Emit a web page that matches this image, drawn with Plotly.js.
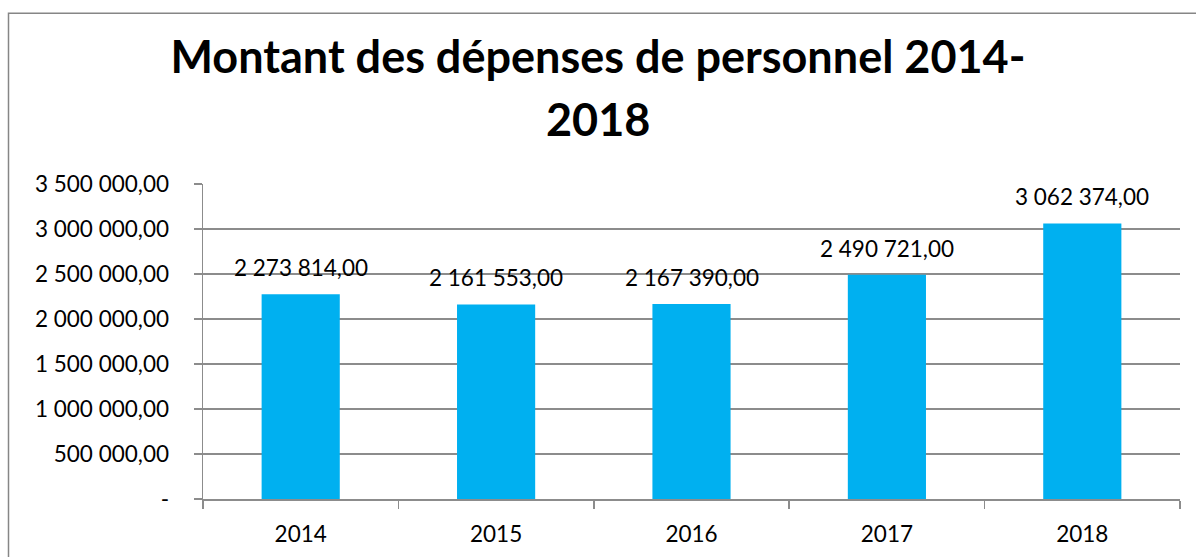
<!DOCTYPE html>
<html>
<head>
<meta charset="utf-8">
<script src="https://cdn.plot.ly/plotly-3.0.1.min.js"></script>
<style>
html,body{margin:0;padding:0;background:#fff;}
#chart{width:1196px;height:557px;}
</style>
</head>
<body>
<div id="chart"></div>
<script>
// Data
const years = ["2014", "2015", "2016", "2017", "2018"];
const amounts = [2273814, 2161553, 2167390, 2490721, 3062374];
const amountLabels = ["2 273 814,00", "2 161 553,00", "2 167 390,00", "2 490 721,00", "3 062 374,00"];
const yTickVals = [0, 500000, 1000000, 1500000, 2000000, 2500000, 3000000, 3500000];
const yTickText = ["-", "500 000,00", "1 000 000,00", "1 500 000,00", "2 000 000,00", "2 500 000,00", "3 000 000,00", "3 500 000,00"];
const titleLine1 = "Montant des dépenses de personnel 2014-";
const titleLine2 = "2018";

const FONT = "Lato, 'Open Sans', sans-serif";
const GRID = "#8c8c8c";

const trace = {
  type: "bar",
  x: years,
  y: amounts,
  marker: {color: "#00B0F0"},
  hoverinfo: "x+y"
};

// annotations on a category axis use the category index
const labelAnnotations = years.map((yr, i) => ({
  x: i, y: amounts[i], xref: "x", yref: "y",
  text: amountLabels[i], showarrow: false,
  yanchor: "bottom", yshift: 11,
  font: {family: FONT, size: 22.5, color: "#000"}
}));

const layout = {
  width: 1196, height: 557,
  margin: {l: 203, r: 16, t: 184, b: 58, pad: 0},
  paper_bgcolor: "#fff", plot_bgcolor: "#fff",
  showlegend: false,
  bargap: 0.6,
  font: {family: FONT, size: 22.5, color: "#000"},
  title: {
    text: "<b>" + titleLine1 + "</b>",
    font: {family: FONT, size: 45, color: "#000"},
    x: 0.5, xref: "container", xanchor: "center",
    y: 1 - 57/557, yref: "container", yanchor: "middle"
  },
  xaxis: {
    type: "category",
    categoryorder: "array", categoryarray: years,
    range: [-0.5, 4.5], fixedrange: true,
    showline: true, linecolor: GRID, linewidth: 1.5,
    ticks: "outside", tickson: "boundaries", ticklen: 8, tickcolor: GRID, tickwidth: 1.5,
    ticklabelstandoff: 14,
    showgrid: false, zeroline: false,
    tickfont: {family: FONT, size: 22.5, color: "#000"}
  },
  yaxis: {
    range: [0, 3500000],
    tickvals: yTickVals, ticktext: yTickText,
    showline: true, linecolor: GRID, linewidth: 1.5,
    ticks: "outside", ticklen: 8, tickcolor: GRID, tickwidth: 1.5,
    ticklabelstandoff: 20,
    showgrid: true, gridcolor: GRID, gridwidth: 1.5,
    zeroline: false,
    tickfont: {family: FONT, size: 22.5, color: "#000"}
  },
  annotations: [
    {
      text: "<b>" + titleLine2 + "</b>", showarrow: false,
      xref: "paper", yref: "paper", x: (598 - 203) / 977, xanchor: "center",
      y: (498.7 - 119) / 314.7, yanchor: "middle",
      font: {family: FONT, size: 45, color: "#000"}
    }
  ].concat(labelAnnotations),
  shapes: [{
    type: "rect", xref: "paper", yref: "paper",
    x0: (8.5 - 203) / 977, x1: (1250 - 203) / 977,
    y0: (498.7 - 620) / 314.7, y1: (498.7 - 13.5) / 314.7,
    line: {color: "#868686", width: 1.5}, fillcolor: "rgba(0,0,0,0)", layer: "below"
  }]
};

Plotly.newPlot("chart", [trace], layout, {displayModeBar: false, staticPlot: true});
</script>
</body>
</html>
